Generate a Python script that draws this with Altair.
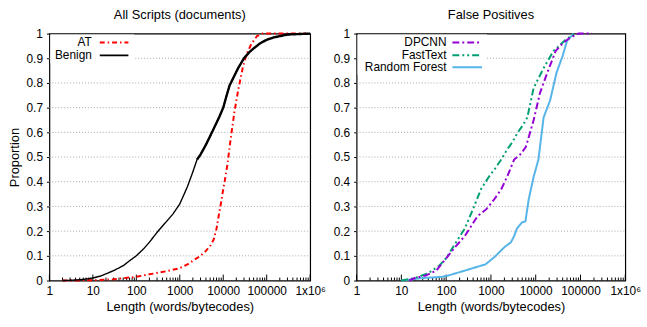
import altair as alt
import pandas as pd

# ---------------- data ----------------
benign_x = [2, 3, 5, 7, 10, 15, 20, 30, 50, 70, 100, 150, 200, 300, 500, 700, 1000, 1500,
            2000, 2500, 3000, 4000, 5500, 8000, 10000, 12000, 14000, 17000, 22000, 30000,
            40000, 50000, 70000, 100000, 150000, 300000, 1000000]
benign_y = [0, 0.001, 0.003, 0.006, 0.01, 0.018, 0.027, 0.04, 0.06, 0.08, 0.10, 0.13, 0.155,
            0.195, 0.24, 0.27, 0.31, 0.38, 0.44, 0.49, 0.51, 0.55, 0.60, 0.66, 0.70, 0.75, 0.79,
            0.82, 0.86, 0.90, 0.925, 0.94, 0.96, 0.975, 0.985, 0.996, 1.0]

at_x = [2, 5, 10, 30, 100, 200, 500, 1000, 1500, 2000, 3000, 4000, 5000, 6000, 7000, 8000,
        9000, 10000, 11000, 12500, 14000, 15000, 18000, 22000, 28000, 35000, 45000, 60000,
        80000, 800000]
at_y = [0, 0.0005, 0.001, 0.005, 0.015, 0.025, 0.038, 0.05, 0.065, 0.08, 0.10, 0.12, 0.14,
        0.165, 0.21, 0.27, 0.32, 0.37, 0.41, 0.47, 0.54, 0.58, 0.68, 0.77, 0.86, 0.92, 0.96,
        0.99, 1.0, 1.0]

dpcnn_x = [15, 20, 35, 60, 100, 150, 260, 500, 800, 1200, 1700, 2300, 3300, 4500, 6000, 7500,
           9000, 12500, 18000, 28000, 40000, 55000, 90000, 180000]
dpcnn_y = [0, 0.01, 0.02, 0.04, 0.09, 0.13, 0.18, 0.26, 0.29, 0.33, 0.37, 0.42, 0.49, 0.51,
           0.54, 0.60, 0.65, 0.76, 0.84, 0.93, 0.96, 0.98, 1.0, 1.0]

fasttext_x = [10, 20, 40, 70, 100, 160, 260, 400, 600, 900, 1200, 1700, 2300, 3000, 4000,
              5200, 6500, 9000, 15000, 25000, 50000, 80000]
fasttext_y = [0, 0.01, 0.03, 0.06, 0.09, 0.15, 0.21, 0.29, 0.37, 0.42, 0.45, 0.49, 0.53, 0.56,
              0.60, 0.63, 0.66, 0.78, 0.86, 0.93, 0.98, 1.0]

rf_x = [10, 30, 80, 110, 260, 600, 750, 1200, 2000, 2800, 3300, 3800, 4900, 5900, 7000,
        9000, 11500, 15000, 21000, 29000, 40000, 50000, 70000]
rf_y = [0, 0.01, 0.015, 0.02, 0.04, 0.06, 0.065, 0.095, 0.135, 0.155, 0.18, 0.21, 0.235, 0.24,
        0.33, 0.42, 0.49, 0.66, 0.73, 0.84, 0.91, 0.97, 1.0]

x_ticks = [1, 10, 100, 1000, 10000, 100000, 1000000]
y_ticks = [0, 0.1, 0.2, 0.3, 0.4, 0.5, 0.6, 0.7, 0.8, 0.9, 1.0]
grid_y = [0.1, 0.2, 0.3, 0.4, 0.5, 0.6, 0.7, 0.8, 0.9]
minor_x = [m * d for d in [1, 10, 100, 1000, 10000, 100000] for m in range(2, 10)]

FONT = "Liberation Sans"
H = 250

xscale = alt.Scale(type="log", domain=[1, 1000000], nice=False)
yscale = alt.Scale(domain=[0, 1], nice=False)

label_expr = "datum.value >= 1000000 ? '1x10⁶' : format(datum.value, 'd')"


def x_axis():
    return alt.Axis(values=x_ticks, labelExpr=label_expr, title="Length (words/bytecodes)",
                    grid=False, tickSize=0, labelPadding=5, titlePadding=4,
                    labelFontSize=12, titleFontSize=13, titleFontWeight="normal",
                    labelFont=FONT, titleFont=FONT, domain=False, labelFlush=False,
                    labelOverlap=False, labelColor="black", titleColor="black")


def y_axis(ytitle):
    return alt.Axis(values=y_ticks, format=".1~f", grid=False, title=ytitle,
                    tickSize=3, labelPadding=4, titlePadding=5,
                    labelFontSize=12, titleFontSize=13, titleFontWeight="normal",
                    labelFont=FONT, titleFont=FONT, domain=False, labelOverlap=False,
                    labelFlush=False, tickColor="black", labelColor="black", titleColor="black")


def series(xs, ys, color, dash, sw, ytitle, ymin=None):
    df = pd.DataFrame({"x": xs, "y": ys})
    ch = alt.Chart(df)
    if ymin is not None:
        ch = ch.transform_filter(alt.datum.y >= ymin)
    return ch.mark_line(color=color, strokeDash=dash, strokeWidth=sw).encode(
        x=alt.X("x:Q", scale=xscale, axis=x_axis()),
        y=alt.Y("y:Q", scale=yscale, axis=y_axis(ytitle)),
        order=alt.Order("x:Q"),
    )


def decorations(W, mask_w, mask_h, ytitle):
    grid = alt.Chart(pd.DataFrame({"g": grid_y})).mark_rule(
        color="#a8a8a8", strokeDash=[1, 2], strokeWidth=1).encode(
        y=alt.Y("g:Q", scale=yscale, axis=y_axis(ytitle)), x=alt.value(0), x2=alt.value(W))
    mask = alt.Chart(pd.DataFrame({"a": [0]})).mark_rect(color="white").encode(
        x=alt.value(1), x2=alt.value(mask_w), y=alt.value(1), y2=alt.value(mask_h))
    major = alt.Chart(pd.DataFrame({"t": x_ticks})).mark_rule(color="black").encode(
        x=alt.X("t:Q", scale=xscale, axis=x_axis()), y=alt.value(H), y2=alt.value(H - 6))
    minor = alt.Chart(pd.DataFrame({"t": minor_x})).mark_rule(color="black").encode(
        x=alt.X("t:Q", scale=xscale, axis=x_axis()), y=alt.value(H), y2=alt.value(H - 3))
    return grid, mask, major, minor


def legend_entry(name, color, dash, sw, tx, lx1, lx2, ly):
    df = pd.DataFrame({"name": [name]})
    txt = alt.Chart(df).mark_text(align="right", baseline="middle", fontSize=12, font=FONT,
                                  color="black").encode(
        text="name:N", x=alt.value(tx), y=alt.value(ly))
    ln = alt.Chart(df).mark_rule(color=color, strokeDash=dash, strokeWidth=sw).encode(
        x=alt.value(lx1), x2=alt.value(lx2), y=alt.value(ly))
    return txt, ln


RED = "#ff0000"
BLACK = "#000000"
PURPLE = "#9400d3"
GREEN = "#009e73"
BLUE = "#56b4e9"

DASH_AT = [5, 3, 1.5, 3]
DASH_DP = [7, 3, 2, 3]
DASH_FT = [7, 3, 2, 3, 2, 3]

WL, WR = 264, 272

# left panel
g, m, mj, mn = decorations(WL, 86, 30, "Proportion")
at_line = series(at_x, at_y, RED, DASH_AT, 2, "Proportion")
benign_line = series(benign_x, benign_y, BLACK, [1, 0], 1.4, "Proportion")
benign_thick = series(benign_x, benign_y, BLACK, [1, 0], 2.4, "Proportion", ymin=0.49)
lt1, ll1 = legend_entry("AT", RED, DASH_AT, 2, 43, 51, 80, 9)
lt2, ll2 = legend_entry("Benign", BLACK, [1, 0], 1.8, 43, 51, 80, 22)
left = alt.layer(g, m, mj, mn, at_line, benign_line, benign_thick, lt1, ll1, lt2, ll2).properties(
    width=WL, height=H,
    title=alt.TitleParams("All Scripts (documents)", fontSize=13, font=FONT, fontWeight="normal",
                          anchor="middle", offset=6, color="black"))

# right panel
g2, m2, mj2, mn2 = decorations(WR, 132, 42, "")
rf_line = series(rf_x, rf_y, BLUE, [1, 0], 2, "")
ft_line = series(fasttext_x, fasttext_y, GREEN, DASH_FT, 2, "")
dp_line = series(dpcnn_x, dpcnn_y, PURPLE, DASH_DP, 2, "")
rt1, rl1 = legend_entry("DPCNN", PURPLE, DASH_DP, 2, 91, 97, 127, 9)
rt2, rl2 = legend_entry("FastText", GREEN, DASH_FT, 2, 91, 97, 127, 22)
rt3, rl3 = legend_entry("Random Forest", BLUE, [1, 0], 2, 91, 97, 127, 34)
right = alt.layer(g2, m2, mj2, mn2, rf_line, ft_line, dp_line, rt1, rl1, rt2, rl2, rt3, rl3).properties(
    width=WR, height=H,
    title=alt.TitleParams("False Positives", fontSize=13, font=FONT, fontWeight="normal",
                          anchor="middle", offset=6, color="black"))

chart = alt.hconcat(left, right, spacing=47, bounds="flush").properties(
    padding={"left": 7, "top": 6, "right": 5, "bottom": 5},
    background="white",
).configure_view(stroke="black", strokeWidth=1.2)

chart.save("out.html", embed_options={"renderer": "svg", "actions": False})
